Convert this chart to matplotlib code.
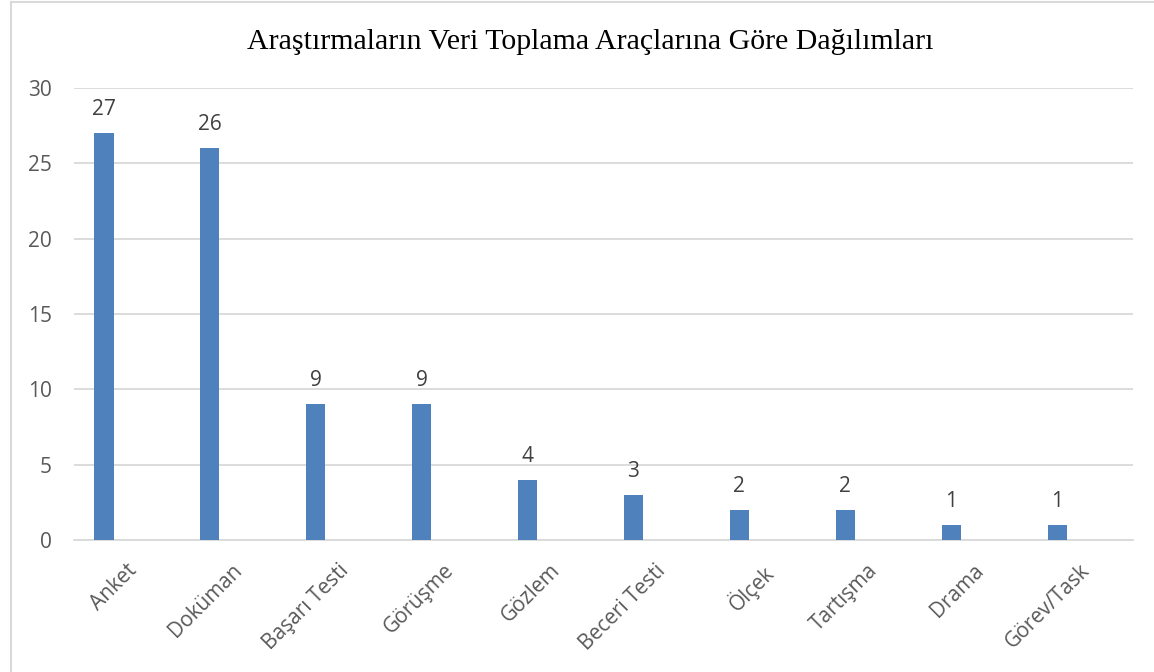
import matplotlib
matplotlib.use('Agg')
from matplotlib import pyplot as plt
from matplotlib.lines import Line2D
from matplotlib.transforms import ScaledTranslation

categories = ['Anket', 'Doküman', 'Başarı Testi', 'Görüşme', 'Gözlem',
              'Beceri Testi', 'Ölçek', 'Tartışma', 'Drama', 'Görev/Task']
counts = [27, 26, 9, 9, 4, 3, 2, 2, 1, 1]
yticks = [0, 5, 10, 15, 20, 25, 30]
title = 'Araştırmaların Veri Toplama Araçlarına Göre Dağılımları'

plt.rcParams['font.family'] = ['Open Sans', 'DejaVu Sans']

W, H = 1154, 672
fig = plt.figure(figsize=(W / 100, H / 100), dpi=100)
ax = fig.add_axes([74 / W, 1 - 540 / H, (1133 - 74) / W, (540 - 88) / H])

x = list(range(len(categories)))
ax.bar(x, counts, width=0.18, color='#4F81BD', zorder=3)
for i, v in zip(x, counts):
    ax.annotate(str(v), (i, v), xytext=(0, 13), textcoords='offset points',
                ha='center', va='baseline', fontsize=15, color='#404040')

ax.set_xlim(-0.283, 9.717)
ax.set_ylim(0, 30)
ax.set_yticks(yticks)
ax.yaxis.grid(True, color='#D9D9D9', linewidth=1.3, zorder=0)
ax.set_xticks(x)
ax.set_xticklabels(categories, rotation=45, ha='right', va='top',
                   rotation_mode='anchor')
ax.tick_params(axis='both', length=0, labelsize=15, labelcolor='#595959')
ax.tick_params(axis='x', pad=0)
ax.tick_params(axis='y', pad=16)
shift = ScaledTranslation(22 / 100, -20 / 100, fig.dpi_scale_trans)
for lab in ax.get_xticklabels():
    lab.set_transform(lab.get_transform() + shift)
for s in ['top', 'right', 'left']:
    ax.spines[s].set_visible(False)
ax.spines['bottom'].set_color('#D9D9D9')
ax.spines['bottom'].set_linewidth(1.3)

fig.text(590 / W, 1 - 42 / H, title, ha='center', va='center',
         fontsize=21.5, family='Liberation Serif', color='#000000')

# border only on left and top edges
fig.lines.append(Line2D([10.5 / W, 10.5 / W], [0, 1 - 1.5 / H],
                        transform=fig.transFigure, color='#D9D9D9', linewidth=1.5))
fig.lines.append(Line2D([10.5 / W, 1], [1 - 1.5 / H, 1 - 1.5 / H],
                        transform=fig.transFigure, color='#D9D9D9', linewidth=1.5))

plt.savefig('out.png', dpi=100)
